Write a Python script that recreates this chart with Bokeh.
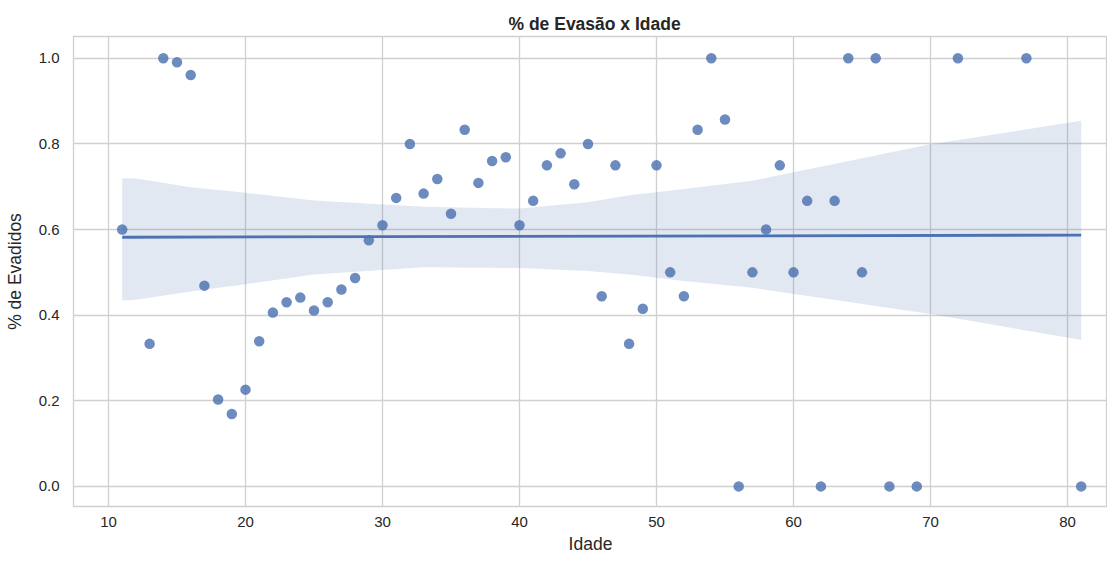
from bokeh.plotting import figure
from bokeh.models import FixedTicker, NumeralTickFormatter, Range1d
from bokeh.embed import file_html
from bokeh.resources import INLINE

# Age vs dropout share
idade = [11, 13, 14, 15, 16, 17, 18, 19, 20, 21, 22, 23, 24, 25, 26, 27, 28, 29, 30,
         31, 32, 33, 34, 35, 36, 37, 38, 39, 40, 41, 42, 43, 44, 45, 46, 47, 48, 49, 50,
         51, 52, 53, 54, 55, 56, 57, 58, 59, 60, 61, 62, 63, 64, 65, 66, 67, 69, 72, 77, 81]
evadidos = [0.600, 0.333, 1.000, 0.991, 0.961, 0.469, 0.203, 0.169, 0.226, 0.339,
            0.406, 0.430, 0.441, 0.411, 0.430, 0.460, 0.487, 0.575, 0.610,
            0.674, 0.800, 0.684, 0.718, 0.637, 0.833, 0.709, 0.760, 0.769, 0.610,
            0.667, 0.750, 0.778, 0.706, 0.800, 0.444, 0.750, 0.333, 0.415, 0.750,
            0.500, 0.444, 0.833, 1.000, 0.857, 0.000, 0.500, 0.600, 0.750, 0.500,
            0.667, 0.000, 0.667, 1.000, 0.500, 1.000, 0.000, 0.000, 1.000, 1.000, 0.000]

# Regression line and confidence band
fit_x = [11, 81]
fit_y = [0.582, 0.587]
ci_x = [11, 12, 16, 20, 25, 33, 40, 45, 48, 52, 57, 70, 81]
ci_upper = [0.720, 0.719, 0.699, 0.686, 0.668, 0.653, 0.649, 0.664, 0.680, 0.695, 0.714, 0.799, 0.854]
ci_lower = [0.434, 0.436, 0.455, 0.472, 0.495, 0.512, 0.510, 0.503, 0.495, 0.480, 0.464, 0.403, 0.342]

x_ticks = [10, 20, 30, 40, 50, 60, 70, 80]
y_ticks = [0.0, 0.2, 0.4, 0.6, 0.8, 1.0]

BLUE = "#4c72b0"
TXT = "#262626"
GRID = "#d0d0d0"
FONT = "Liberation Sans"

p = figure(width=1107, height=556, output_backend="svg", toolbar_location=None,
           x_range=Range1d(7.445, 82.92), y_range=Range1d(-0.047, 1.051),
           title="% de Evasão x Idade",
           min_border_left=73, min_border_right=0, min_border_top=36, min_border_bottom=0)

p.title.text_font = FONT
p.title.text_font_size = "17.5px"
p.title.text_font_style = "bold"
p.title.text_color = TXT
p.title.align = "left"
p.title.offset = 435
p.title.standoff = 6

p.varea(x=ci_x, y1=ci_lower, y2=ci_upper, fill_color=BLUE, fill_alpha=0.16)
p.scatter(idade, evadidos, size=10.5, fill_color=BLUE, fill_alpha=0.82, line_color=None)
p.line(fit_x, fit_y, line_color=BLUE, line_width=2.8)

p.outline_line_color = GRID
p.outline_line_width = 1.3

for ax in (p.xaxis[0], p.yaxis[0]):
    ax.axis_line_color = None
    ax.major_tick_line_color = None
    ax.minor_tick_line_color = None
    ax.major_tick_out = 0
    ax.major_tick_in = 0
    ax.minor_tick_out = 0
    ax.major_label_text_font = FONT
    ax.major_label_text_font_size = "15px"
    ax.major_label_text_color = TXT
    ax.major_label_text_line_height = 1.0
    ax.axis_label_text_font = FONT
    ax.axis_label_text_font_size = "17.5px"
    ax.axis_label_text_font_style = "normal"
    ax.axis_label_text_color = TXT
    ax.axis_label_text_line_height = 1.0

p.xaxis.ticker = FixedTicker(ticks=x_ticks)
p.yaxis.ticker = FixedTicker(ticks=y_ticks)
p.yaxis.formatter = NumeralTickFormatter(format="0.0")
p.xaxis.axis_label = "Idade"
p.yaxis.axis_label = "% de Evadidos"
p.xaxis.major_label_standoff = 10
p.yaxis.major_label_standoff = 14
p.xaxis.axis_label_standoff = 4
p.yaxis.axis_label_standoff = 11

p.xgrid.grid_line_color = GRID
p.ygrid.grid_line_color = GRID
p.xgrid.grid_line_width = 1.3
p.ygrid.grid_line_width = 1.3

open("out.html", "w").write(file_html(p, INLINE))
